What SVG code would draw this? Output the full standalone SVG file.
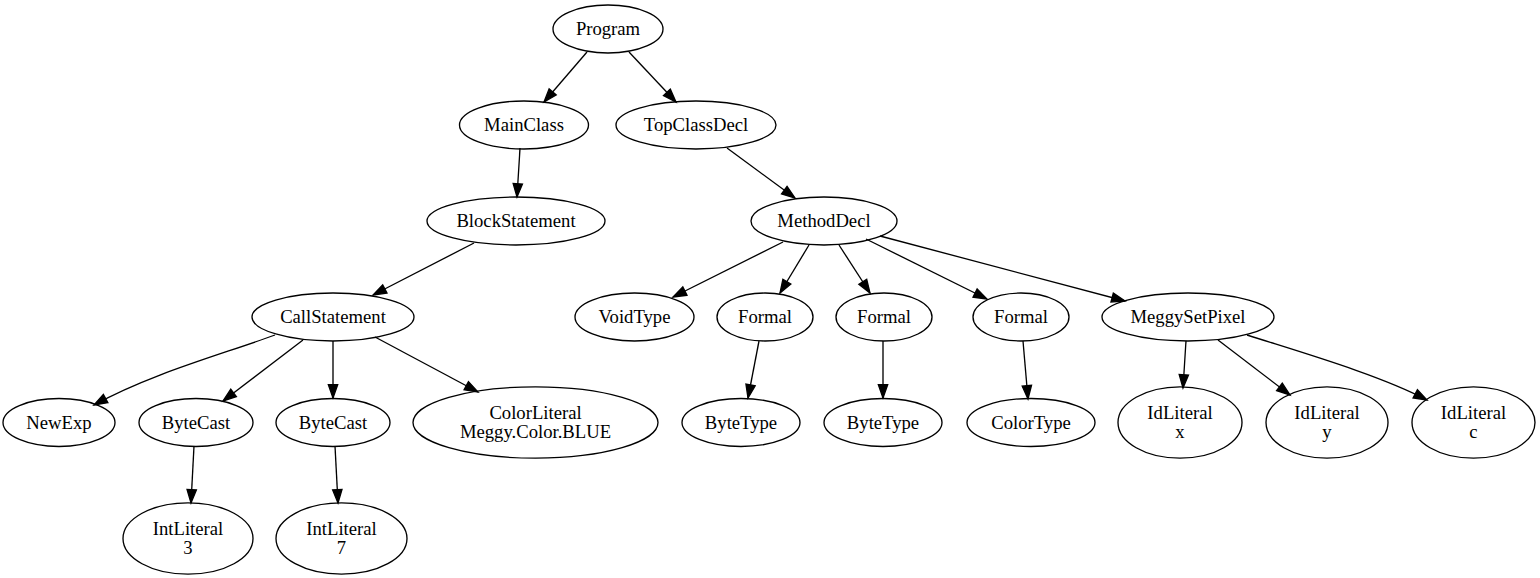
<svg xmlns="http://www.w3.org/2000/svg" width="1540" height="578" viewBox="0 0 1540 578">
  <style>
    .node ellipse { fill: none; stroke: #000; stroke-width: 1.33; }
    .node text { font-family: "Liberation Serif", "Times New Roman", serif; font-size: 18.67px; text-anchor: middle; fill: #000; }
    .edge { fill: none; stroke: #000; stroke-width: 1.33; marker-end: url(#arrow); }
  </style>
  <defs>
    <marker id="arrow" markerUnits="userSpaceOnUse" markerWidth="20" markerHeight="14" refX="13.3" refY="4.67" orient="auto" overflow="visible">
      <path d="M0,0 L13.3,4.67 L0,9.33 z" fill="#000" stroke="#000" stroke-width="1.33"/>
    </marker>
  </defs>
  <rect width="1540" height="578" fill="#fff"/>

  <g id="edges">
    <path class="edge" d="M587,52 L544,102"/>
    <path class="edge" d="M629,52 L676,102"/>
    <path class="edge" d="M520,148 L517,197"/>
    <path class="edge" d="M727,148 L795,198"/>
    <path class="edge" d="M474,243 L373,295"/>
    <path class="edge" d="M783,242 L673,297"/>
    <path class="edge" d="M809,245 L780,293"/>
    <path class="edge" d="M839,245 L870,293"/>
    <path class="edge" d="M866,239 L987,299"/>
    <path class="edge" d="M880,236 L1125,301"/>
    <path class="edge" d="M275,335 C220,355 150,374 94,405"/>
    <path class="edge" d="M303,340 L223,401"/>
    <path class="edge" d="M333,341 L333,398"/>
    <path class="edge" d="M375,337 L478,392"/>
    <path class="edge" d="M759,341 L748,398"/>
    <path class="edge" d="M883,341 L883,398"/>
    <path class="edge" d="M1023,341 L1028,399"/>
    <path class="edge" d="M1186,341 L1183,388"/>
    <path class="edge" d="M1218,340 L1290,395"/>
    <path class="edge" d="M1247,335 C1300,352 1380,375 1427,400"/>
    <path class="edge" d="M194,446 L191,503"/>
    <path class="edge" d="M335,446 L338,503"/>
  </g>

  <g id="program" class="node"><ellipse cx="608" cy="29" rx="55" ry="24"/><text x="608" y="35">Program</text></g>
  <g id="mainclass" class="node"><ellipse cx="524" cy="125" rx="64.5" ry="24"/><text x="524" y="131">MainClass</text></g>
  <g id="topclassdecl" class="node"><ellipse cx="696" cy="125" rx="80" ry="24"/><text x="696" y="131">TopClassDecl</text></g>
  <g id="blockstatement" class="node"><ellipse cx="516" cy="221" rx="89" ry="24"/><text x="516" y="227">BlockStatement</text></g>
  <g id="methoddecl" class="node"><ellipse cx="824" cy="221" rx="73" ry="24"/><text x="824" y="227">MethodDecl</text></g>
  <g id="callstatement" class="node"><ellipse cx="333" cy="317" rx="81" ry="24"/><text x="333" y="323">CallStatement</text></g>
  <g id="voidtype" class="node"><ellipse cx="634.5" cy="317" rx="59.5" ry="24"/><text x="634.5" y="323">VoidType</text></g>
  <g id="formal1" class="node"><ellipse cx="765" cy="317" rx="48" ry="24"/><text x="765" y="323">Formal</text></g>
  <g id="formal2" class="node"><ellipse cx="884" cy="317" rx="48" ry="24"/><text x="884" y="323">Formal</text></g>
  <g id="formal3" class="node"><ellipse cx="1021" cy="317" rx="48" ry="24"/><text x="1021" y="323">Formal</text></g>
  <g id="meggysetpixel" class="node"><ellipse cx="1188" cy="317" rx="86" ry="24"/><text x="1188" y="323">MeggySetPixel</text></g>
  <g id="newexp" class="node"><ellipse cx="59" cy="422.5" rx="56" ry="24"/><text x="59" y="428.5">NewExp</text></g>
  <g id="bytecast1" class="node"><ellipse cx="196" cy="422.5" rx="57" ry="24"/><text x="196" y="428.5">ByteCast</text></g>
  <g id="bytecast2" class="node"><ellipse cx="333" cy="422.5" rx="57" ry="24"/><text x="333" y="428.5">ByteCast</text></g>
  <g id="colorliteral" class="node"><ellipse cx="535.5" cy="422.5" rx="122.5" ry="35.65"/><text x="535.5" y="418.5">ColorLiteral</text><text x="535.5" y="437.5">Meggy.Color.BLUE</text></g>
  <g id="bytetype1" class="node"><ellipse cx="741" cy="422.5" rx="59" ry="24"/><text x="741" y="428.5">ByteType</text></g>
  <g id="bytetype2" class="node"><ellipse cx="883" cy="422.5" rx="59" ry="24"/><text x="883" y="428.5">ByteType</text></g>
  <g id="colortype" class="node"><ellipse cx="1031" cy="422.5" rx="64" ry="24"/><text x="1031" y="428.5">ColorType</text></g>
  <g id="idliteral-x" class="node"><ellipse cx="1180" cy="422.5" rx="62" ry="35.65"/><text x="1180" y="418.5">IdLiteral</text><text x="1180" y="437.5">x</text></g>
  <g id="idliteral-y" class="node"><ellipse cx="1327" cy="422.5" rx="61" ry="35.65"/><text x="1327" y="418.5">IdLiteral</text><text x="1327" y="437.5">y</text></g>
  <g id="idliteral-c" class="node"><ellipse cx="1473.5" cy="422.5" rx="61.5" ry="35.65"/><text x="1473.5" y="418.5">IdLiteral</text><text x="1473.5" y="437.5">c</text></g>
  <g id="intliteral-3" class="node"><ellipse cx="188" cy="538.5" rx="65" ry="35.65"/><text x="188" y="534.5">IntLiteral</text><text x="188" y="553.5">3</text></g>
  <g id="intliteral-7" class="node"><ellipse cx="341.5" cy="538.5" rx="65.5" ry="35.65"/><text x="341.5" y="534.5">IntLiteral</text><text x="341.5" y="553.5">7</text></g>
</svg>
